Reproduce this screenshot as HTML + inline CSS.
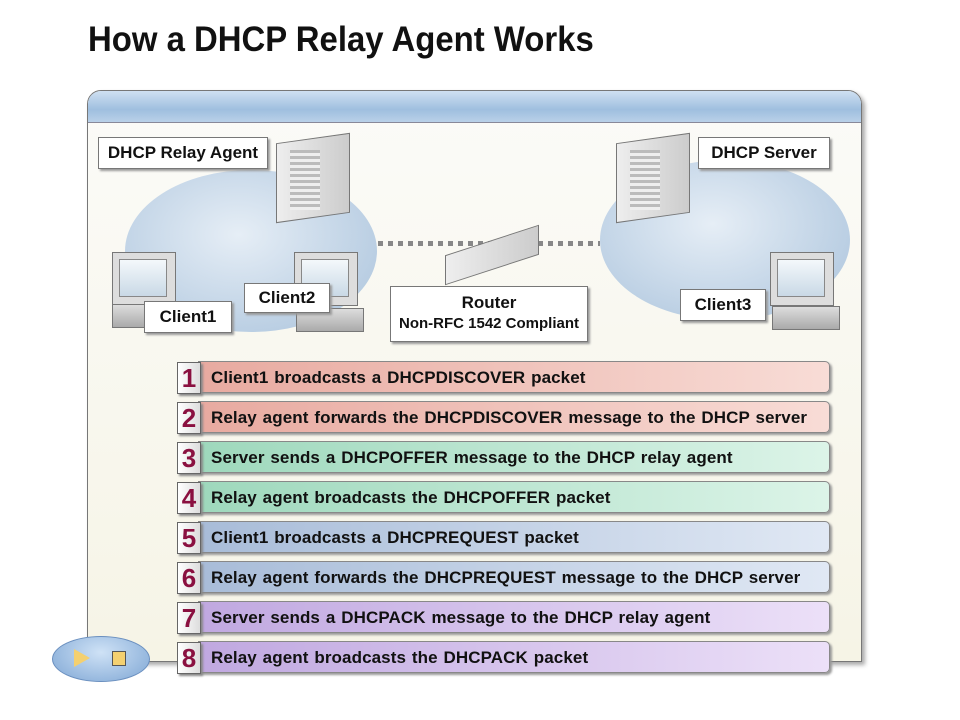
<!DOCTYPE html>
<html><head><meta charset="utf-8"><style>
body{margin:0;width:960px;height:720px;background:#fff;position:relative;font-family:"Liberation Sans",sans-serif;overflow:hidden}
.a{position:absolute}
h1{position:absolute;left:88px;top:20px;margin:0;font-size:35px;font-weight:bold;color:#111;transform:scaleX(0.94);transform-origin:left;white-space:nowrap}
.frame{left:87px;top:90px;width:773px;height:570px;border:1px solid #777;border-radius:14px 14px 0 0;background:linear-gradient(#fbfbf8,#f6f4e6);box-shadow:3px 3px 4px #aaa}
.hdr{left:88px;top:91px;width:773px;height:31px;border-radius:13px 13px 0 0;background:linear-gradient(#cfe0f2,#9fbfdf 60%,#b9d0e8);border-bottom:1px solid #889}
.lbl{position:absolute;background:#fff;border:1px solid #777;box-shadow:2px 2px 2px #999;font-weight:bold;font-size:17px;color:#111;text-align:center;transform-origin:left}
.ell{position:absolute;border-radius:50%;background:radial-gradient(ellipse at 45% 40%,#e6eef6,#b8cde2 75%,#a9bfd6);}
.row{position:absolute;left:198px;width:632px;height:32px;border:1px solid #888;border-radius:0 5px 5px 0;box-shadow:2px 2px 2px #999;font-weight:bold;font-size:17px;color:#111;line-height:32px;padding-left:12px;box-sizing:border-box;word-spacing:1px;letter-spacing:0.1px;white-space:nowrap}
.num{position:absolute;left:177px;width:22px;height:30px;background:linear-gradient(90deg,#fff,#ddd);border:1px solid #666;box-shadow:2px 2px 2px #888;color:#8a1040;font-weight:bold;font-size:26px;text-align:center;line-height:30px}
.srv{position:absolute;background:linear-gradient(90deg,#eee,#ccc);border:1px solid #777}
.mon{position:absolute;width:62px;height:52px;background:#ddd;border:1px solid #777}
.mon i{position:absolute;left:6px;top:6px;width:46px;height:36px;background:linear-gradient(#f4f8fb,#c9d9e6);border:1px solid #888}
.base{position:absolute;width:66px;height:22px;background:linear-gradient(#ddd,#aaa);border:1px solid #777}
</style></head><body>
<h1>How a DHCP Relay Agent Works</h1>
<div class="a frame"></div>
<div class="a hdr"></div>
<div class="ell" style="left:125px;top:170px;width:252px;height:162px"></div>
<div class="ell" style="left:600px;top:160px;width:250px;height:160px"></div>
<div class="a" style="left:378px;top:241px;width:222px;height:5px;background:repeating-linear-gradient(90deg,#888 0 5px,transparent 5px 10px)"></div>
<div class="srv" style="left:276px;top:138px;width:72px;height:78px;transform:skewY(-8deg)"></div>
<div class="a" style="left:290px;top:150px;width:30px;height:60px;background:repeating-linear-gradient(#bbb 0 3px,#eee 3px 6px)"></div>
<div class="srv" style="left:616px;top:138px;width:72px;height:78px;transform:skewY(-8deg)"></div>
<div class="a" style="left:630px;top:150px;width:30px;height:60px;background:repeating-linear-gradient(#bbb 0 3px,#eee 3px 6px)"></div>
<div class="srv" style="left:445px;top:240px;width:92px;height:28px;transform:skewY(-18deg)"></div>
<div class="mon" style="left:112px;top:252px"><i></i></div><div class="base" style="left:112px;top:304px"></div>
<div class="mon" style="left:294px;top:252px"><i></i></div><div class="base" style="left:296px;top:308px"></div>
<div class="mon" style="left:770px;top:252px"><i></i></div><div class="base" style="left:772px;top:306px"></div>
<div class="lbl" style="left:98px;top:137px;width:168px;height:30px;line-height:30px">DHCP Relay Agent</div>
<div class="lbl" style="left:698px;top:137px;width:130px;height:30px;line-height:30px">DHCP Server</div>
<div class="lbl" style="left:144px;top:301px;width:86px;height:30px;line-height:30px">Client1</div>
<div class="lbl" style="left:244px;top:283px;width:84px;height:28px;line-height:28px">Client2</div>
<div class="lbl" style="left:680px;top:289px;width:84px;height:30px;line-height:30px">Client3</div>
<div class="lbl" style="left:390px;top:286px;width:198px;height:56px;line-height:20px;padding-top:6px;box-sizing:border-box">Router<br><span style="font-size:15px">Non-RFC 1542 Compliant</span></div>
<div class="row" style="top:361px;background:linear-gradient(90deg,#e8aaa0,#f8dcd6)">Client1 broadcasts a DHCPDISCOVER packet</div>
<div class="row" style="top:401px;background:linear-gradient(90deg,#e8aaa0,#f8dcd6)">Relay agent forwards the DHCPDISCOVER message to the DHCP server</div>
<div class="row" style="top:441px;background:linear-gradient(90deg,#9ed8bc,#dcf4e8)">Server sends a DHCPOFFER message to the DHCP relay agent</div>
<div class="row" style="top:481px;background:linear-gradient(90deg,#9ed8bc,#dcf4e8)">Relay agent broadcasts the DHCPOFFER packet</div>
<div class="row" style="top:521px;background:linear-gradient(90deg,#a8bcd8,#e0e8f4)">Client1 broadcasts a DHCPREQUEST packet</div>
<div class="row" style="top:561px;background:linear-gradient(90deg,#a8bcd8,#e0e8f4)">Relay agent forwards the DHCPREQUEST message to the DHCP server</div>
<div class="row" style="top:601px;background:linear-gradient(90deg,#c0a8e0,#ece0f8)">Server sends a DHCPACK message to the DHCP relay agent</div>
<div class="row" style="top:641px;background:linear-gradient(90deg,#c0a8e0,#ece0f8)">Relay agent broadcasts the DHCPACK packet</div>
<div class="num" style="top:362px">1</div><div class="num" style="top:402px">2</div><div class="num" style="top:442px">3</div><div class="num" style="top:482px">4</div>
<div class="num" style="top:522px">5</div><div class="num" style="top:562px">6</div><div class="num" style="top:602px">7</div><div class="num" style="top:642px">8</div>
<div class="a" style="left:52px;top:636px;width:96px;height:44px;border-radius:50%;background:radial-gradient(ellipse at 50% 35%,#cfe2f6,#7ea6d4);border:1px solid #6a8fbf"></div>
<div class="a" style="left:74px;top:649px;width:0;height:0;border-left:16px solid #f4d070;border-top:9px solid transparent;border-bottom:9px solid transparent"></div>
<div class="a" style="left:112px;top:651px;width:12px;height:13px;background:#f4d070;border:1px solid #555"></div>
</body></html>
